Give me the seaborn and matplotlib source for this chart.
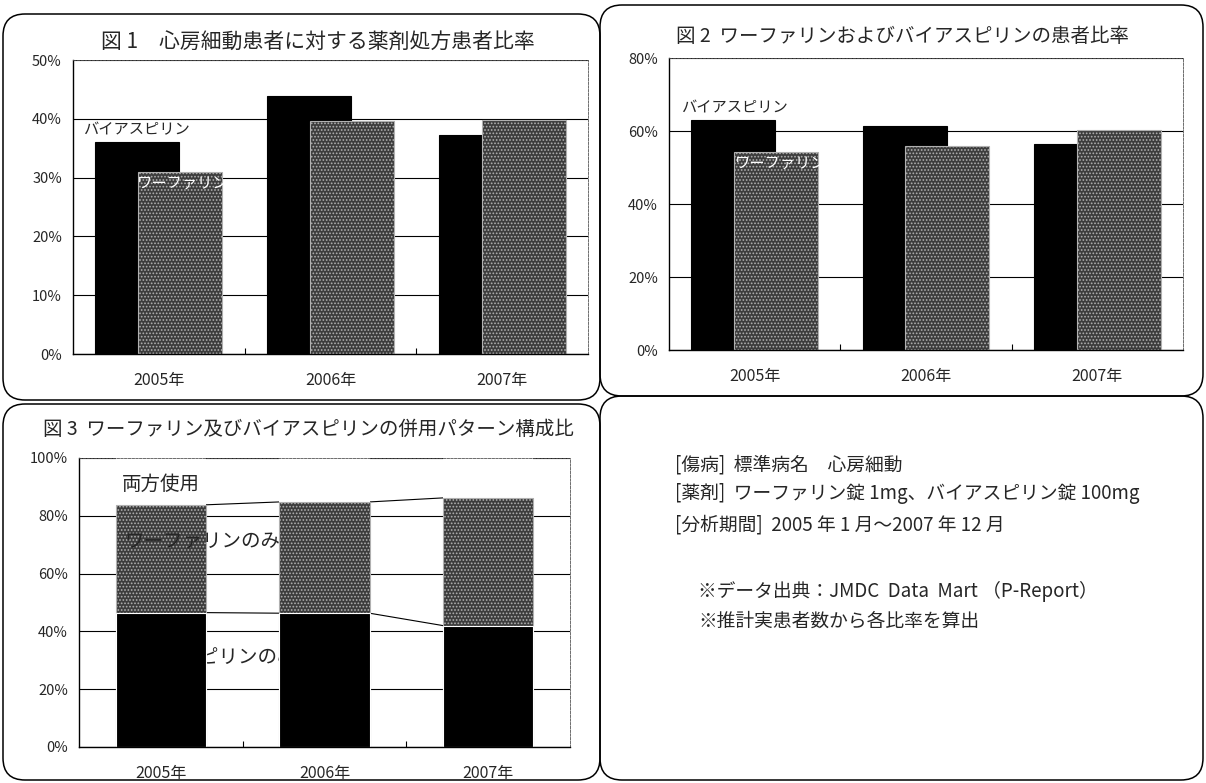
import matplotlib
matplotlib.use("Agg")
import matplotlib.pyplot as plt
from matplotlib.patches import FancyBboxPatch
import seaborn as sns

years = ["2005年", "2006年", "2007年"]

# 図1 心房細動患者に対する薬剤処方患者比率 (%)
fig1_aspirin = [36.1, 43.9, 37.2]
fig1_warfarin = [31.0, 39.7, 39.8]

# 図2 ワーファリンおよびバイアスピリンの患者比率 (%)
fig2_aspirin = [63.1, 61.5, 56.5]
fig2_warfarin = [54.2, 55.8, 60.2]

# 図3 併用パターン構成比 (%)
fig3_aspirin_only = [46.5, 46.3, 42.0]
fig3_warfarin_only = [37.3, 38.5, 44.2]
fig3_both = [16.2, 15.2, 13.8]

notes = [
    "[傷病]  標準病名　心房細動",
    "[薬剤]  ワーファリン錠 1mg、バイアスピリン錠 100mg",
    "[分析期間]  2005 年 1 月～2007 年 12 月",
]
sources = [
    "※データ出典：JMDC  Data  Mart （P-Report）",
    "※推計実患者数から各比率を算出",
]

sns.set_theme(style="white")
plt.rcParams["font.family"] = ["Noto Sans CJK JP", "DejaVu Sans"]
plt.rcParams["hatch.linewidth"] = 0.8

BLACK = "#000000"
GRAY = "#3c3c3c"
SPECK = "#b0b0b0"

W, H = 1206, 783
fig = plt.figure(figsize=(W / 100, H / 100), dpi=100)


def px_axes(left, top, right, bottom):
    return fig.add_axes([left / W, 1 - bottom / H, (right - left) / W, (bottom - top) / H])


def ftext(x, y, s, **kw):
    fig.text(x / W, 1 - y / H, s, **kw)


def panel_box(x0, y0, x1, y1):
    box = FancyBboxPatch((x0 / 100, (H - y1) / 100), (x1 - x0) / 100, (y1 - y0) / 100,
                         boxstyle="round,pad=0,rounding_size=0.22",
                         transform=fig.dpi_scale_trans, fill=False, ec="black", lw=1.1)
    fig.add_artist(box)


def style_axes(ax, ymax, step):
    ax.set_xlim(-0.5, 2.5)
    ax.set_ylim(0, ymax)
    ticks = list(range(0, ymax + 1, step))
    ax.set_yticks(ticks)
    ax.set_yticklabels([f"{t}%" for t in ticks], fontsize=10.5)
    ax.tick_params(axis="y", length=0, pad=8)
    ax.tick_params(axis="x", length=0, pad=13, labelsize=11.5)
    ax.set_xticks([0.5, 1.5], minor=True)
    ax.tick_params(axis="x", which="minor", direction="in", length=4, width=0.8, color="black", bottom=True)
    ax.yaxis.grid(True, color="black", lw=0.8)
    ax.set_axisbelow(True)
    ax.set_xlabel("")
    ax.set_ylabel("")
    for side in ["left", "bottom"]:
        ax.spines[side].set_color("black")
        ax.spines[side].set_linewidth(1.0)
    for side in ["top", "right"]:
        ax.spines[side].set_color("#555555")
        ax.spines[side].set_linewidth(0.6)
        ax.spines[side].set_linestyle((0, (3, 1.5)))


def overlap_bars(ax, aspirin, warfarin):
    # aspirin behind, warfarin in front, shifted so they overlap by half
    for vals, color, edge, hatch, shift in [(aspirin, BLACK, BLACK, None, -0.125),
                                            (warfarin, GRAY, SPECK, ".....", 0.125)]:
        n0 = len(ax.patches)
        sns.barplot(x=years, y=vals, color=color, saturation=1, width=0.49, errorbar=None,
                    edgecolor=edge, linewidth=0.8, hatch=hatch, ax=ax, zorder=2)
        for p in ax.patches[n0:]:
            p.set_x(p.get_x() + shift)


# panel frames
panel_box(3, 14, 600, 400)
panel_box(600, 5, 1203, 396)
panel_box(3, 404, 600, 780)
panel_box(600, 396, 1203, 780)

# 図1
ax1 = px_axes(73, 60, 588, 354)
overlap_bars(ax1, fig1_aspirin, fig1_warfarin)
style_axes(ax1, 50, 10)
ax1.text(-0.44, 38.1, "バイアスピリン", fontsize=11, va="center", ha="left", zorder=5)
ax1.text(-0.125, 29.1, "ワーファリン", fontsize=11, va="center", ha="left", color="white", zorder=5)
ftext(318, 42, "図 1　心房細動患者に対する薬剤処方患者比率", fontsize=15, ha="center", va="center")

# 図2
ax2 = px_axes(669, 58, 1183, 350)
overlap_bars(ax2, fig2_aspirin, fig2_warfarin)
style_axes(ax2, 80, 20)
ax2.text(-0.43, 66.3, "バイアスピリン", fontsize=11, va="center", ha="left", zorder=5)
ax2.text(-0.115, 51.2, "ワーファリン", fontsize=11, va="center", ha="left", color="white", zorder=5)
ftext(903, 37, "図 2  ワーファリンおよびバイアスピリンの患者比率", fontsize=14, ha="center", va="center")

# 図3 stacked: draw totals first, then overlay lower segments
ax3 = px_axes(79, 458, 570, 747)
cum_gray = [a + w for a, w in zip(fig3_aspirin_only, fig3_warfarin_only)]
cum_total = [g + b for g, b in zip(cum_gray, fig3_both)]
bw = 0.55
sns.barplot(x=years, y=cum_total, color="white", saturation=1, width=bw, errorbar=None,
            linewidth=0, ax=ax3, zorder=2)
sns.barplot(x=years, y=cum_gray, color=GRAY, saturation=1, width=bw, errorbar=None,
            edgecolor=SPECK, linewidth=0.8, hatch=".....", ax=ax3, zorder=2)
sns.barplot(x=years, y=fig3_aspirin_only, color=BLACK, saturation=1, width=bw, errorbar=None,
            edgecolor="white", linewidth=0.8, ax=ax3, zorder=2)
style_axes(ax3, 100, 20)
# series lines between adjacent bars
for top in [cum_gray, fig3_aspirin_only]:
    for i in range(len(years) - 1):
        ax3.plot([i + bw / 2, i + 1 - bw / 2], [top[i], top[i + 1]], color="black", lw=0.8, zorder=1.5)
ax3.text(-0.237, 90.7, "両方使用", fontsize=14, va="center", ha="left", zorder=5)
ax3.text(-0.225, 70.9, "ワーファリンのみ", fontsize=14, va="center", ha="left", zorder=5)
ax3.text(-0.24, 31.1, "バイアスピリンのみ", fontsize=14, va="center", ha="left", zorder=1.8)
ftext(308, 429, "図 3  ワーファリン及びバイアスピリンの併用パターン構成比", fontsize=14, ha="center", va="center")

# notes panel
for y, s in zip([465, 494, 525], notes):
    ftext(675, y, s, fontsize=13.5, ha="left", va="center")
for y, s in zip([591, 621], sources):
    ftext(698, y, s, fontsize=13.5, ha="left", va="center")

fig.savefig("out.png", dpi=100)
